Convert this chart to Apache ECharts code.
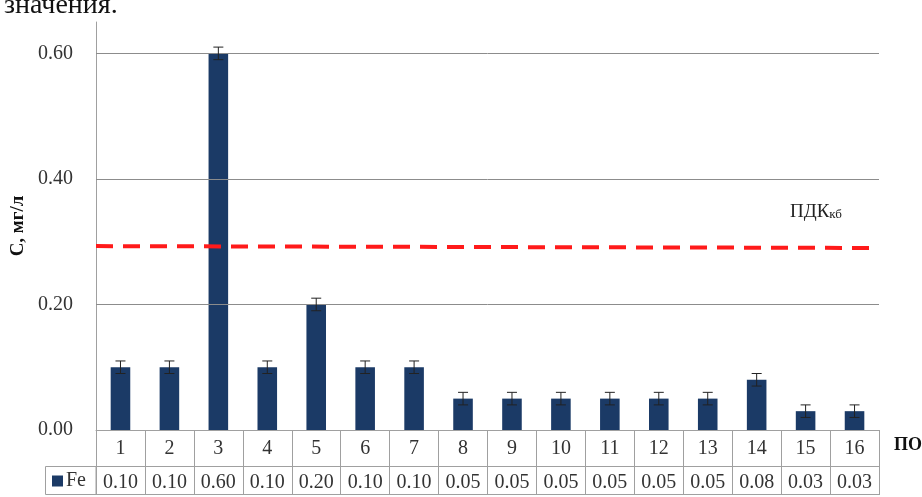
<!DOCTYPE html>
<html>
<head>
<meta charset="utf-8">
<script src="https://cdn.jsdelivr.net/npm/echarts@6/dist/echarts.min.js"></script>
<style>
  html, body { margin: 0; padding: 0; background: #fff; }
  #chart { width: 922px; height: 497px; }
</style>
</head>
<body>
<div id="chart"></div>
<script>
// sampling points (ПО) and Fe concentration, mg/l
const points = ['1', '2', '3', '4', '5', '6', '7', '8', '9', '10', '11', '12', '13', '14', '15', '16']
const feValues = [0.10, 0.10, 0.60, 0.10, 0.20, 0.10, 0.10, 0.05, 0.05, 0.05, 0.05, 0.05, 0.05, 0.08, 0.03, 0.03]
const feErrors = [0.01, 0.01, 0.01, 0.01, 0.01, 0.01, 0.01, 0.01, 0.01, 0.01, 0.01, 0.01, 0.01, 0.01, 0.01, 0.01]
const yTicks = [0.2, 0.4, 0.6]
// ПДК line, left end and right end
const pdkLine = [0.293, 0.290]

const serif = '"Liberation Serif", "Times New Roman", serif'
const gridGray = '#a0a0a0'
const textColor = '#333'

const chart = echarts.init(document.getElementById('chart'))

const option = {
  animation: false,
  textStyle: { fontFamily: serif },
  title: [{
    text: 'значения.',
    left: -1,
    top: -13,
    textStyle: { fontFamily: serif, fontSize: 28, fontWeight: 'normal', color: '#111' }
  }, {
    text: '{a|ПДК}{b|кб}',
    left: 785,
    top: 198,
    textStyle: {
      fontWeight: 'normal',
      rich: {
        a: { fontFamily: serif, fontSize: 19, fontWeight: 'normal', color: '#222' },
        b: { fontFamily: serif, fontSize: 13, fontWeight: 'normal', color: '#222', padding: [5, 0, 0, 0] }
      }
    }
  }, {
    text: 'ПО',
    left: 889,
    top: 431,
    textStyle: { fontFamily: serif, fontSize: 18, fontWeight: 'bold', color: '#111' }
  }],
  legend: {
    data: ['Fe'],
    left: 52,
    top: 471,
    icon: 'rect',
    itemWidth: 11,
    itemHeight: 11,
    itemGap: 4,
    padding: 0,
    textStyle: { fontFamily: serif, fontSize: 20, color: textColor, padding: [0, 0, 0, -2] }
  },
  grid: {
    left: 96,
    right: 43,
    top: 22,
    bottom: 67
  },
  xAxis: [{
    type: 'category',
    data: points,
    position: 'bottom',
    axisLine: { lineStyle: { color: gridGray } },
    axisTick: { show: true, interval: 0, length: 36, lineStyle: { color: gridGray } },
    axisLabel: { fontFamily: serif, fontSize: 20, color: textColor, margin: 9 }
  }, {
    type: 'category',
    data: points,
    position: 'bottom',
    offset: 36,
    axisLine: { show: true, lineStyle: { color: gridGray } },
    axisTick: { show: true, interval: 0, length: 29, lineStyle: { color: gridGray } },
    axisLabel: {
      fontFamily: serif, fontSize: 20, color: textColor, margin: 7,
      formatter: (v, i) => feValues[i].toFixed(2)
    }
  }, {
    type: 'value',
    min: 0,
    max: 1,
    show: false
  }],
  yAxis: {
    type: 'value',
    min: 0,
    max: 0.65,
    interval: 0.2,
    name: 'С, мг/л',
    nameLocation: 'middle',
    nameGap: 68,
    nameTextStyle: { fontFamily: serif, fontSize: 19, fontWeight: 'bold', color: '#111' },
    axisLine: { show: true, lineStyle: { color: gridGray } },
    axisTick: { show: false },
    splitLine: { show: false },
    axisLabel: {
      fontFamily: serif, fontSize: 20, color: textColor, margin: 23,
      showMaxLabel: false,
      formatter: v => v.toFixed(2)
    }
  },
  series: [{
    name: 'Fe',
    type: 'bar',
    data: feValues,
    barWidth: '40%',
    itemStyle: { color: '#1b3a66' },
    markLine: {
      silent: true,
      symbol: 'none',
      label: { show: false },
      lineStyle: { color: '#8c8c8c', type: 'solid', width: 1 },
      data: yTicks.map(t => ({ yAxis: t }))
    }
  }, {
    name: 'err',
    type: 'custom',
    data: feValues.map((v, i) => [i, v, feErrors[i]]),
    z: 5,
    renderItem: (params, api) => {
      const i = api.value(0)
      const v = api.value(1)
      const e = api.value(2)
      const hi = api.coord([i, v + e])
      const lo = api.coord([i, v - e])
      const w = 5
      const st = { stroke: '#222', lineWidth: 1 }
      return {
        type: 'group',
        children: [
          { type: 'line', shape: { x1: hi[0], y1: hi[1], x2: lo[0], y2: lo[1] }, style: st },
          { type: 'line', shape: { x1: hi[0] - w, y1: hi[1], x2: hi[0] + w, y2: hi[1] }, style: st },
          { type: 'line', shape: { x1: lo[0] - w, y1: lo[1], x2: lo[0] + w, y2: lo[1] }, style: st }
        ]
      }
    }
  }, {
    name: 'ПДК',
    type: 'line',
    xAxisIndex: 2,
    data: [[0, pdkLine[0]], [1, pdkLine[1]]],
    symbol: 'none',
    z: 6,
    lineStyle: { color: '#ff1a1a', width: 4, type: [17, 10] }
  }],
  graphic: [{
    type: 'rect',
    shape: { x: 45.5, y: 466.5, width: 50.5, height: 28 },
    style: { fill: 'none', stroke: gridGray, lineWidth: 1 }
  }, {
    type: 'line',
    shape: { x1: 96, y1: 494.5, x2: 879.5, y2: 494.5 },
    style: { stroke: gridGray, lineWidth: 1 }
  }]
}

chart.setOption(option)
</script>
</body>
</html>
